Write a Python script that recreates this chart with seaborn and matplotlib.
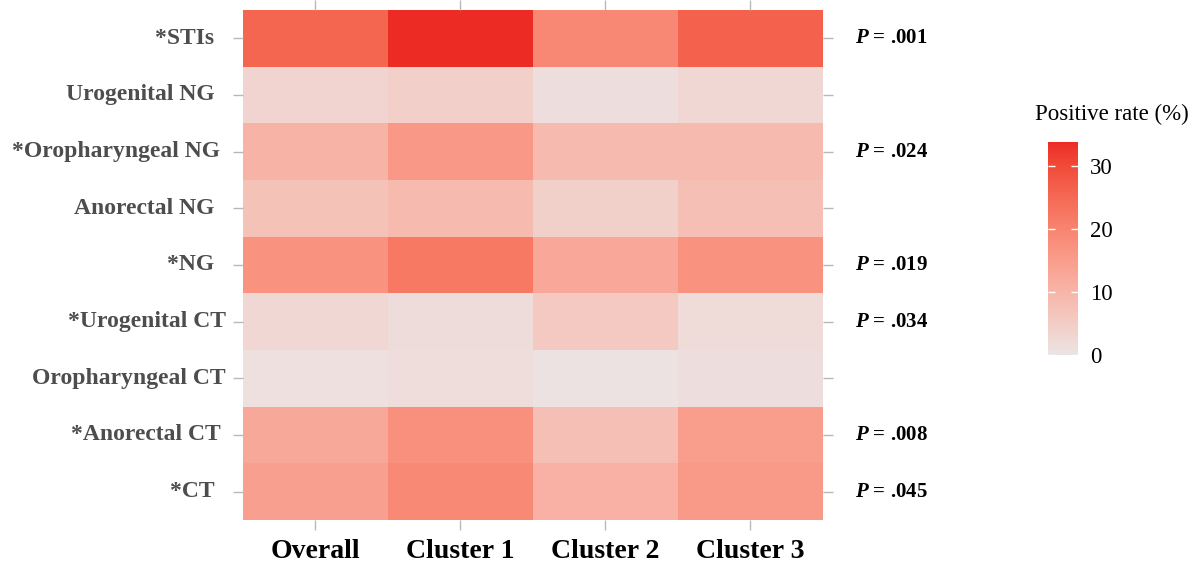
import numpy as np
import pandas as pd
import matplotlib
matplotlib.use("Agg")
import matplotlib.pyplot as plt
import matplotlib.colors as mcolors
from matplotlib.transforms import blended_transform_factory
import seaborn as sns

# data (positive rate, %)
rows = ["*STIs  ", "Urogenital NG  ", "*Oropharyngeal NG ", "Anorectal NG  ", "*NG  ",
        "*Urogenital CT", "Oropharyngeal CT", "*Anorectal CT ", "*CT  "]
groups = ["Overall", "Cluster 1", "Cluster 2", "Cluster 3"]
overall = [25.6, 3.5, 10.3, 7.3, 17.2, 2.8, 1.0, 12.8, 14.5]
cluster1 = [33.8, 4.5, 16.0, 9.1, 22.3, 1.8, 1.6, 17.6, 19.0]
cluster2 = [19.4, 1.2, 9.1, 4.3, 12.9, 5.8, 0.5, 7.9, 10.7]
cluster3 = [26.4, 2.8, 9.1, 7.9, 17.2, 2.0, 1.3, 15.0, 15.8]
p_labels = [".001", "", ".024", "", ".019", ".034", "", ".008", ".045"]

df = pd.DataFrame({"Overall": overall, "Cluster 1": cluster1,
                   "Cluster 2": cluster2, "Cluster 3": cluster3}, index=rows)

# gradient interpolated in CIELAB, like ggplot's scale_fill_gradient
M = np.array([[0.4124, 0.3576, 0.1805], [0.2126, 0.7152, 0.0722], [0.0193, 0.1192, 0.9505]])
WHITE = M @ np.ones(3)


def to_lab(h):
    c = np.array(mcolors.to_rgb(h))
    lin = np.where(c <= 0.04045, c / 12.92, ((c + 0.055) / 1.055) ** 2.4)
    t = (M @ lin) / WHITE
    f = np.where(t > 0.008856, np.cbrt(t), 7.787 * t + 16 / 116)
    return np.array([116 * f[1] - 16, 500 * (f[0] - f[1]), 200 * (f[1] - f[2])])


def from_lab(lab):
    fy = (lab[0] + 16) / 116
    f = np.array([fy + lab[1] / 500, fy, fy - lab[2] / 200])
    t = np.where(f ** 3 > 0.008856, f ** 3, (f - 16 / 116) / 7.787) * WHITE
    lin = np.linalg.solve(M, t)
    c = np.where(lin <= 0.0031308, 12.92 * lin, 1.055 * np.clip(lin, 0, None) ** (1 / 2.4) - 0.055)
    return np.clip(c, 0, 1)


lo, hi = to_lab("#EBE4E4"), to_lab("#EC2B25")
cmap = mcolors.ListedColormap([from_lab(lo + (hi - lo) * s) for s in np.linspace(0, 1, 256)])

plt.rcParams["font.family"] = ["Liberation Serif", "DejaVu Serif"]
plt.rcParams["mathtext.fontset"] = "custom"
plt.rcParams["mathtext.it"] = "Liberation Serif:italic:bold"
plt.rcParams["mathtext.rm"] = "Liberation Serif:bold"

fig = plt.figure(figsize=(11.96, 5.63), dpi=100)
ax = fig.add_axes([0.203, 0.0764, 0.485, 0.906])
cax = fig.add_axes([0.876, 0.369, 0.025, 0.379])

sns.heatmap(df, ax=ax, cmap=cmap, vmin=0, vmax=max(cluster1), cbar_ax=cax,
            linewidths=0)

tick_grey = "#b8b8b8"
ax.tick_params(axis="both", length=7, width=1, color=tick_grey,
               top=True, right=True, left=True, bottom=True)
ax.tick_params(axis="y", pad=5, labelsize=17, labelcolor="#4D4D4D", rotation=0)
ax.tick_params(axis="x", pad=7, labelsize=20, labelcolor="black", rotation=0)
for lab in ax.get_yticklabels():
    lab.set_fontweight("bold")
for lab in ax.get_xticklabels():
    lab.set_fontweight("bold")
ax.set_xlabel("")
ax.set_ylabel("")

tr = blended_transform_factory(ax.transAxes, ax.transData)
for i, p in enumerate(p_labels):
    if p:
        ax.text(1.055, i + 0.5, r"$P$ = " + p, transform=tr, ha="left", va="center",
                fontsize=15, fontweight="bold", color="black")

# colorbar styled like ggplot's guide
cbar = ax.collections[0].colorbar
cbar.outline.set_visible(False)
cbar.set_ticks([0, 10, 20, 30])
cax.tick_params(axis="y", direction="in", length=5, width=1, color="white",
                left=True, right=True, labelsize=16.5, pad=9)
fig.text(0.865, 0.797, "Positive rate (%)", fontsize=16.5, ha="left", va="center")

plt.savefig("out.png", dpi=100)
plt.close()
